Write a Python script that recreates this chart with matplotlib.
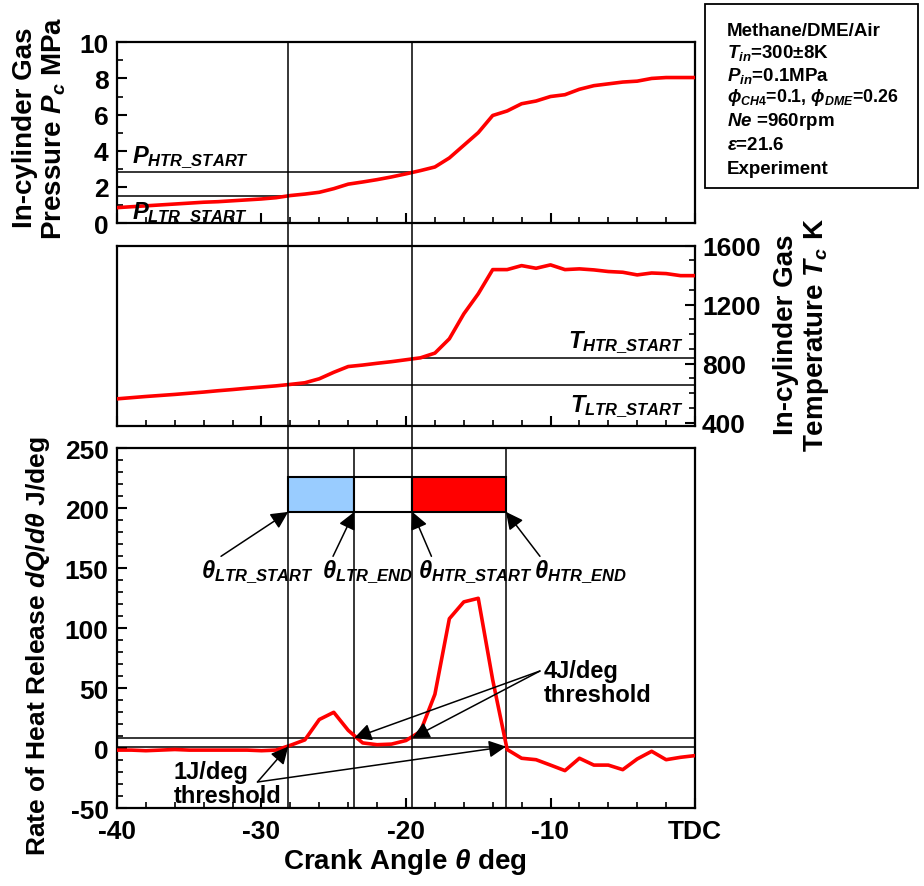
import matplotlib
matplotlib.use('Agg')
import matplotlib.pyplot as plt
from matplotlib.lines import Line2D
from matplotlib.patches import Rectangle
import matplotlib.transforms as mtransforms
from matplotlib.ticker import MultipleLocator, FixedLocator

plt.rcParams['font.family'] = ['Liberation Sans', 'DejaVu Sans']
plt.rcParams['font.weight'] = 'bold'
plt.rcParams['mathtext.fontset'] = 'custom'
plt.rcParams['mathtext.rm'] = 'Liberation Sans:bold'
plt.rcParams['mathtext.it'] = 'Liberation Sans:italic:bold'
plt.rcParams['mathtext.bf'] = 'Liberation Sans:bold'

# ---------------- data ----------------
crank = list(range(-40, 1))
pressure = [0.85, 0.90, 0.95, 1.00, 1.05, 1.10, 1.15, 1.18, 1.23, 1.28,
            1.33, 1.40, 1.52, 1.60, 1.70, 1.90, 2.15, 2.27, 2.40, 2.55,
            2.72, 2.90, 3.10, 3.60, 4.30, 5.00, 5.95, 6.20, 6.60, 6.75,
            7.00, 7.10, 7.40, 7.60, 7.70, 7.80, 7.85, 8.00, 8.05, 8.05, 8.05]
temperature = [562, 570, 578, 585, 592, 600, 608, 617, 625, 634,
               642, 650, 660, 671, 698, 742, 781, 791, 803, 814,
               827, 840, 872, 969, 1138, 1274, 1438, 1438, 1465, 1447,
               1470, 1438, 1443, 1436, 1425, 1420, 1402, 1415, 1411, 1397, 1397]
hrr = [-1.5, -1.5, -2.0, -1.5, -1.0, -1.5, -1.5, -1.5, -1.5, -1.5,
       -2.0, -1.5, 2.5, 7.0, 24.0, 30.0, 15.0, 4.5, 3.0, 3.5,
       6.5, 14.0, 45.0, 108.0, 122.0, 125.0, 57.0, -1.0, -8.3, -9.5,
       -14.0, -18.6, -8.3, -14.0, -14.0, -17.8, -8.9, -2.5, -9.5, -7.5, -6.1]

theta_ltr_start, theta_ltr_end = -28.15, -23.58
theta_htr_start, theta_htr_end = -19.56, -13.08
p_ltr_start, p_htr_start = 1.5, 2.8
t_ltr_start, t_htr_start = 658, 836
thr_low, thr_high = 1.4, 8.6
band_low, band_high = 197, 226

x_ticks = [-40, -30, -20, -10, 0]
x_ticklabels = ['-40', '-30', '-20', '-10', 'TDC']
p_ticks = [0, 2, 4, 6, 8, 10]
t_ticks = [400, 800, 1200, 1600]
q_ticks = [-50, 0, 50, 100, 150, 200, 250]

RED = '#FF0000'
BLUE = '#99CCFF'
FS = 19

fig = plt.figure(figsize=(9.24, 8.87), dpi=100)
W, H = 924, 887
L = 117 / W
AW = (695 - 117) / W
ax1 = fig.add_axes([L, 1 - 224 / H, AW, (224 - 43.3) / H])
ax2 = fig.add_axes([L, 1 - 426.7 / H, AW, (426.7 - 246.7) / H])
ax3 = fig.add_axes([L, 1 - 809.3 / H, AW, 360 / H])

for ax in (ax1, ax2, ax3):
    ax.set_xlim(-40, 0)
    for s in ax.spines.values():
        s.set_linewidth(1.6)
    ax.xaxis.set_major_locator(FixedLocator(x_ticks))
    ax.xaxis.set_minor_locator(MultipleLocator(2))
    ax.tick_params(axis='both', which='major', direction='in', length=7, width=1.5,
                   labelsize=FS, pad=6)
    ax.tick_params(axis='both', which='minor', direction='in', length=4, width=1.2)
    ax.set_facecolor('white')

# top: pressure
ax1.set_ylim(0, 10)
ax1.set_yticks(p_ticks)
ax1.set_yticklabels([str(v) for v in p_ticks])
ax1.yaxis.set_minor_locator(MultipleLocator(1))
ax1.tick_params(axis='x', labelbottom=False)
ax1.plot(crank, pressure, color=RED, lw=2.6, zorder=3)
ax1.plot([-40, theta_ltr_start], [p_ltr_start] * 2, color='k', lw=1.1)
ax1.plot([-40, theta_htr_start], [p_htr_start] * 2, color='k', lw=1.1)
ax1.text(-38.95, 2.95, r'$P_{HTR\_START}$', fontsize=17, ha='left', va='bottom')
ax1.text(-38.95, 1.33, r'$P_{LTR\_START}$', fontsize=17, ha='left', va='top', zorder=4)

# middle: temperature
ax2.set_ylim(380, 1600)
ax2.yaxis.tick_right()
ax2.set_yticks(t_ticks)
ax2.set_yticklabels([str(v) for v in t_ticks])
ax2.yaxis.set_minor_locator(MultipleLocator(100))
ax2.tick_params(axis='x', labelbottom=False)
ax2.tick_params(axis='y', which='both', left=False, right=True, pad=5)
ax2.plot(crank, temperature, color=RED, lw=2.6, zorder=3)
ax2.plot([theta_ltr_start, 0], [t_ltr_start] * 2, color='k', lw=1.1)
ax2.plot([theta_htr_start, 0], [t_htr_start] * 2, color='k', lw=1.1)
ax2.text(-0.75, 858, r'$T_{HTR\_START}$', fontsize=17, ha='right', va='bottom')
ax2.text(-0.75, 515, r'$T_{LTR\_START}$', fontsize=17, ha='right', va='center')

# bottom: heat release
ax3.set_ylim(-50, 250)
ax3.set_yticks(q_ticks)
ax3.set_yticklabels([str(v) for v in q_ticks])
ax3.yaxis.set_minor_locator(MultipleLocator(10))
ax3.set_xticklabels(x_ticklabels)
ax3.tick_params(axis='x', pad=8)
ax3.plot(crank, hrr, color=RED, lw=2.6, zorder=3)
ax3.axhline(thr_low, color='k', lw=1.1)
ax3.axhline(thr_high, color='k', lw=1.1)
ax3.axvline(theta_ltr_end, color='k', lw=1.1)
ax3.axvline(theta_htr_end, color='k', lw=1.1)

ax3.add_patch(Rectangle((theta_ltr_start, band_low), theta_ltr_end - theta_ltr_start,
                        band_high - band_low, fc=BLUE, ec='k', lw=1.5, zorder=4))
ax3.add_patch(Rectangle((theta_ltr_end, band_low), theta_htr_start - theta_ltr_end,
                        band_high - band_low, fc='white', ec='k', lw=1.5, zorder=4))
ax3.add_patch(Rectangle((theta_htr_start, band_low), theta_htr_end - theta_htr_start,
                        band_high - band_low, fc=RED, ec='k', lw=1.5, zorder=4))

arrow = dict(arrowstyle='-|>', mutation_scale=26, color='k', lw=1.1,
             shrinkA=0, shrinkB=0)
labels = [(r'$\theta_{LTR\_START}$', -30.3, theta_ltr_start, -32.8),
          (r'$\theta_{LTR\_END}$', -22.7, theta_ltr_end, -25.05),
          (r'$\theta_{HTR\_START}$', -15.2, theta_htr_start, -18.24),
          (r'$\theta_{HTR\_END}$', -7.9, theta_htr_end, -10.73)]
for txt, tx, hx, ax_tail in labels:
    ax3.annotate('', xy=(hx, band_low), xytext=(ax_tail, 160), arrowprops=arrow, zorder=5)
    ax3.text(tx, 148, txt, fontsize=17, ha='center', va='center')

# threshold annotations
ax3.text(-10.45, 55, '4J/deg\nthreshold', fontsize=17, ha='left', va='center',
         linespacing=1.05)
for hx in (theta_ltr_end, theta_htr_start):
    ax3.annotate('', xy=(hx, thr_high), xytext=(-10.73, 64.4), arrowprops=arrow)
ax3.text(-36.1, -29.5, '1J/deg\nthreshold', fontsize=17, ha='left', va='center',
         linespacing=1.05)
for hx in (theta_ltr_start, theta_htr_end):
    ax3.annotate('', xy=(hx, thr_low), xytext=(-30.28, -28.1), arrowprops=arrow)

# long vertical lines through all panels
tr = mtransforms.blended_transform_factory(ax3.transData, fig.transFigure)
for th in (theta_ltr_start, theta_htr_start):
    fig.add_artist(Line2D([th, th], [1 - 43.3 / H, 1 - 809.3 / H], transform=tr,
                          color='k', lw=1.1, zorder=2.5))

# axis labels
fig.text(40 / W, 1 - 128 / H, 'In-cylinder Gas\nPressure $P_c$ MPa', rotation=90,
         ha='center', va='center', fontsize=20, linespacing=1.15)
fig.text(802 / W, 1 - 335 / H, 'In-cylinder Gas\nTemperature $T_c$ K', rotation=90,
         ha='center', va='center', fontsize=20, linespacing=1.15)
fig.text(38 / W, 1 - 646 / H, r'Rate of Heat Release $dQ/d\theta$ J/deg', rotation=90,
         ha='center', va='center', fontsize=19)
fig.text(405 / W, 1 - 862 / H, r'Crank Angle $\theta$ deg', ha='center', va='center',
         fontsize=20)

# condition box
fig.add_artist(Rectangle((705 / W, 1 - 189 / H), (918 - 705) / W, (189 - 5) / H,
                         transform=fig.transFigure, fc='white', ec='k', lw=1.3))
cond = ['Methane/DME/Air', r'$T_{in}$=300±8K', r'$P_{in}$=0.1MPa',
        r'$\phi_{CH4}$=0.1, $\phi_{DME}$=0.26', r'$Ne$ =960rpm',
        r'$\varepsilon$=21.6', 'Experiment']
ys = [31, 53, 76, 98, 121, 145, 169]
sizes = [13.5, 13.5, 13.5, 12.8, 13.5, 13.5, 13.5]
for t, y, fs in zip(cond, ys, sizes):
    fig.text(727 / W, 1 - y / H, t, ha='left', va='center', fontsize=fs)

fig.savefig('out.png', dpi=100)
